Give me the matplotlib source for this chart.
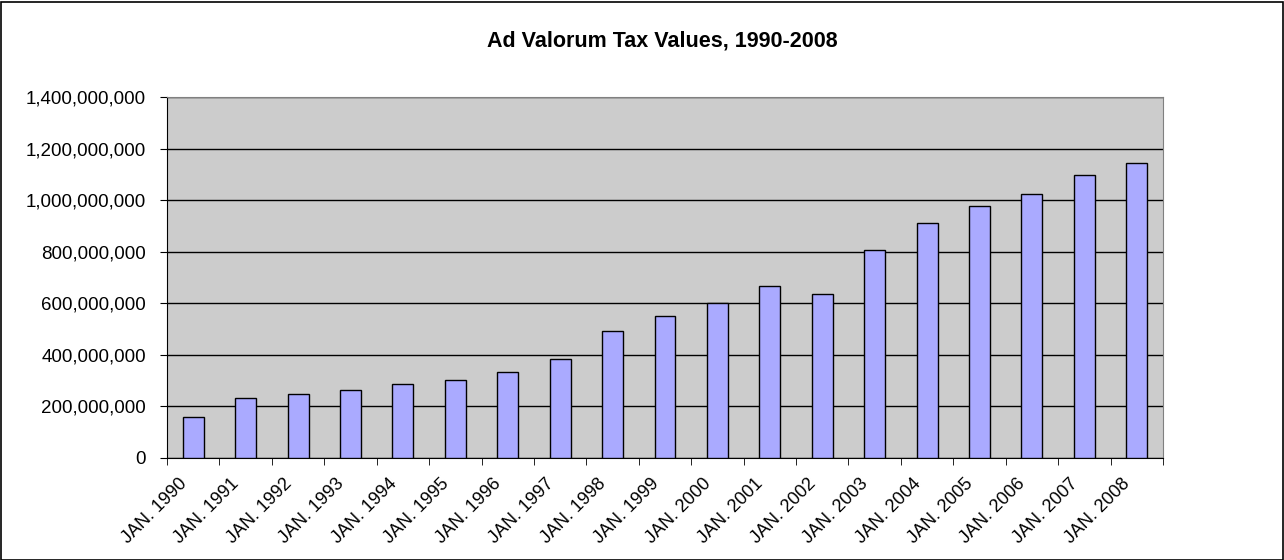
import matplotlib.pyplot as plt
from matplotlib.patches import Rectangle
from matplotlib.ticker import FuncFormatter, FixedLocator
from matplotlib.transforms import ScaledTranslation
import numpy as np

plt.rcParams['font.family'] = ['Liberation Sans', 'DejaVu Sans']

years = list(range(1990, 2009))
labels = [f"JAN. {y}" for y in years]
values = [159e6, 233e6, 248e6, 264e6, 287e6, 302e6, 333e6, 382e6, 492e6, 551e6,
          600e6, 667e6, 636e6, 807e6, 911e6, 976e6, 1024e6, 1096e6, 1145e6]

fig = plt.figure(figsize=(12.84, 5.6), dpi=100)
ax = fig.add_axes([167 / 1284, 1 - 458 / 560, (1163 - 167) / 1284, (458 - 97) / 560])

x = np.arange(len(years))
ax.set_facecolor('#CCCCCC')
ax.bar(x, values, width=0.4, color='#AAAAFF', edgecolor='black', linewidth=1, zorder=3)

ax.set_xlim(-0.5, len(years) - 0.5)
ax.set_ylim(0, 1.4e9)
ax.set_yticks(np.arange(0, 1.4e9 + 1, 2e8))
ax.yaxis.set_major_formatter(FuncFormatter(lambda v, p: f"{int(v):,}"))
ax.grid(axis='y', color='black', linewidth=1, zorder=1)

ax.set_xticks(x)
ax.set_xticklabels(labels, rotation=45, ha='right', va='center', rotation_mode='anchor')
ax.xaxis.set_minor_locator(FixedLocator(np.arange(-0.5, len(years), 1)))
ax.tick_params(axis='x', which='major', length=0, pad=17, labelsize=13)
ax.tick_params(axis='x', which='minor', length=5, direction='out', color='black')
ax.tick_params(axis='y', length=5, direction='out', labelsize=13.5, pad=10)

shift = ScaledTranslation(-0.09, 0, fig.dpi_scale_trans)
for lab in ax.get_xticklabels():
    lab.set_transform(lab.get_transform() + shift)

for s in ['top', 'right']:
    ax.spines[s].set_color('#808080')
for s in ['left', 'bottom']:
    ax.spines[s].set_color('black')

fig.text(662 / 1284, 1 - 41 / 560, 'Ad Valorum Tax Values, 1990-2008', ha='center', va='center',
         fontsize=15.5, fontweight='bold')

fig.patches.append(Rectangle((0.5 / 1284, 0.5 / 560), 1282 / 1284, 558 / 560,
                             transform=fig.transFigure, fill=False, edgecolor='black', linewidth=1.2))

fig.savefig('out.png', dpi=100)
